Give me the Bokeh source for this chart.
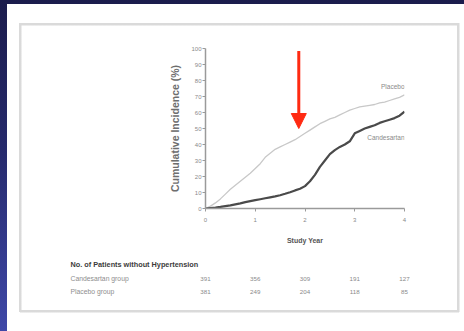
from bokeh.plotting import figure
from bokeh.layouts import column
from bokeh.models import Range1d, Label, Arrow, NormalHead, FixedTicker
from bokeh.core.properties import value
from bokeh.embed import file_html
from bokeh.resources import INLINE

# Kaplan-Meier style cumulative incidence of hypertension (%)
years = [0.0, 0.1, 0.2, 0.3, 0.4, 0.5, 0.6, 0.7, 0.8, 0.9, 1.0, 1.1, 1.2, 1.3,
         1.4, 1.5, 1.6, 1.7, 1.8, 1.9, 2.0, 2.1, 2.2, 2.3, 2.4, 2.5, 2.6, 2.7,
         2.8, 2.9, 3.0, 3.1, 3.2, 3.3, 3.4, 3.5, 3.6, 3.7, 3.8, 3.9, 4.0]
placebo = [0, 1.5, 3.5, 6, 9, 12, 14.5, 17, 19.5, 22, 25, 28, 32, 34.5,
           37, 38.5, 40, 41.5, 43, 45, 47, 49, 51, 53, 54.5, 56, 57, 58.5,
           60, 61.5, 62.5, 63.5, 64, 64.5, 65, 66, 66.5, 67.5, 68.5, 69.5, 71]
candesartan = [0, 0.3, 0.6, 1, 1.5, 2, 2.6, 3.2, 4, 4.6, 5.2, 5.8, 6.4, 7,
               7.6, 8.3, 9.2, 10.2, 11.3, 12.3, 14, 17, 21, 26, 30, 34, 36.5, 38.5,
               40, 42, 47, 48.5, 50, 51, 52, 53.5, 54.5, 55.5, 56.5, 58, 60.5]

# Patients at risk at each study year
risk_years = [0, 1, 2, 3, 4]
candesartan_at_risk = ["391", "356", "309", "191", "127"]
placebo_at_risk = ["381", "249", "204", "118", "85"]

y_ticks = [0, 10, 20, 30, 40, 50, 60, 70, 80, 90, 100]
arrow_year = 1.875
arrow_from, arrow_to = 98.5, 50

FONT = "Liberation Sans"
W = 464
LEFT, RIGHT = 205, 60          # chart frame borders (px)
px_per_year = (W - LEFT - RIGHT) / 4

# ---------------- chart ----------------
p = figure(width=W, height=250, x_range=Range1d(0, 4), y_range=Range1d(0, 100),
           output_backend="svg", toolbar_location=None,
           min_border_left=LEFT, min_border_right=RIGHT,
           min_border_top=48, min_border_bottom=42)
p.frame_align = False
p.border_fill_color = None
p.background_fill_color = None
p.outline_line_color = None
p.grid.visible = False

ax_col = "#9a9a9a"
p.xaxis.ticker = FixedTicker(ticks=risk_years)
p.yaxis.ticker = FixedTicker(ticks=y_ticks)
for ax in (p.xaxis[0], p.yaxis[0]):
    ax.axis_line_color = ax_col
    ax.axis_line_width = 1.5
    ax.major_tick_line_color = ax_col
    ax.major_tick_out = 3
    ax.major_tick_in = 0
    ax.minor_tick_line_color = None
    ax.major_label_text_color = "#8a8a8a"
    ax.major_label_text_font = FONT
    ax.axis_label_text_font = FONT
    ax.axis_label_text_font_style = "bold"
p.xaxis.major_label_text_font_size = "6px"
p.yaxis.major_label_text_font_size = "6px"
p.xaxis.major_label_standoff = 6
p.yaxis.major_label_standoff = 1
p.xaxis.axis_label = "Study Year"
p.xaxis.axis_label_text_color = "#555555"
p.xaxis.axis_label_text_font_size = "7px"
p.xaxis.axis_label_standoff = 12
p.yaxis.axis_label = "Cumulative Incidence (%)"
p.yaxis.axis_label_text_color = "#6e6e6e"
p.yaxis.axis_label_text_font_size = "10.5px"
p.yaxis.axis_label_standoff = 7

p.line(years, placebo, line_color="#c8c8c8", line_width=1.3)
p.line(years, candesartan, line_color="#4a4a4a", line_width=2.2)

p.add_layout(Label(x=4, y=76, text="Placebo", text_align="right", text_baseline="middle",
                   text_font=FONT, text_font_size="6.5px", text_color="#8a8a8a"))
p.add_layout(Label(x=4, y=44.4, text="Candesartan", text_align="right", text_baseline="middle",
                   text_font=FONT, text_font_size="6.5px", text_color="#8a8a8a"))

p.add_layout(Arrow(x_start=arrow_year, y_start=arrow_from, x_end=arrow_year, y_end=arrow_to,
                   line_color="#ff2a12", line_width=3,
                   end=NormalHead(size=15, fill_color="#ff2a12", line_color="#ff2a12")))

# ---------------- patients-at-risk table (same year scale) ----------------
t = figure(width=W, height=81,
           x_range=Range1d(-LEFT / px_per_year, (W - LEFT) / px_per_year),
           y_range=Range1d(81, 0),
           output_backend="svg", toolbar_location=None, min_border=0)
t.frame_align = False
t.border_fill_color = None
t.background_fill_color = None
t.outline_line_color = None
t.axis.visible = False
t.grid.visible = False

label_x = -135 / px_per_year
t.text(x=[label_x], y=[14], text=["No. of Patients without Hypertension"],
       text_font=value(FONT), text_font_size=value("7.3px"), text_font_style="bold",
       text_color="#3c3c3c", text_baseline="middle", text_align="left")
for name, row_y, counts in (("Candesartan group", 28, candesartan_at_risk),
                            ("Placebo group", 41, placebo_at_risk)):
    t.text(x=[label_x], y=[row_y], text=[name],
           text_font=value(FONT), text_font_size=value("6.8px"),
           text_color="#8e8e8e", text_baseline="middle", text_align="left")
    t.text(x=risk_years, y=[row_y] * len(risk_years), text=counts,
           text_font=value(FONT), text_font_size=value("6.2px"),
           text_color="#8a8a8a", text_baseline="middle", text_align="center")

# slide: blue backdrop, white panel, thin grey frame around the figure
frame_col = "linear-gradient(#dadada,#dadada)"
background = ", ".join([
    f"{frame_col} 20px 23px / 439px 2.5px no-repeat",
    f"{frame_col} 20px 310px / 439px 2.5px no-repeat",
    f"{frame_col} 19px 23px / 2.5px 289px no-repeat",
    f"{frame_col} 457px 23px / 2.5px 289px no-repeat",
    "linear-gradient(#ffffff,#ffffff) 7px 4px / 457px 327px no-repeat",
    "linear-gradient(180deg, #1b1c4c 0%, #262a6c 45%, #3f48a8 100%)",
])
layout = column(p, t, width=W, height=331, spacing=0, styles={"background": background})

open("out.html", "w").write(file_html(layout, INLINE))
